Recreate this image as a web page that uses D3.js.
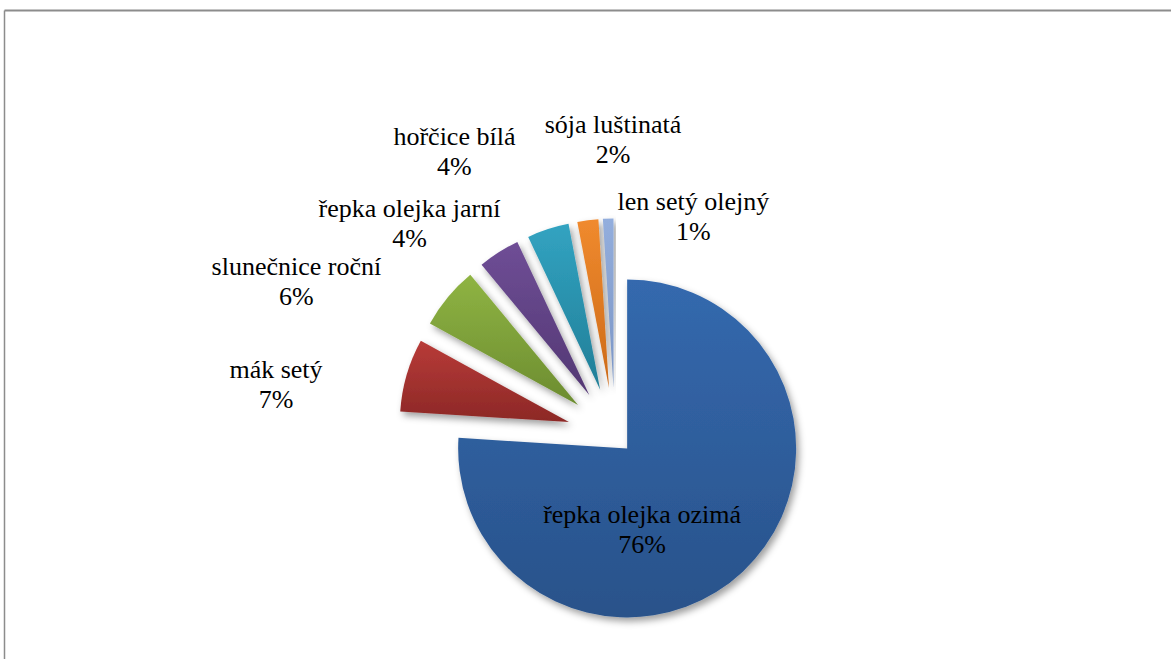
<!DOCTYPE html>
<html>
<head>
<meta charset="utf-8">
<script src="https://cdn.jsdelivr.net/npm/d3@7"></script>
<style>
  html, body { margin: 0; padding: 0; background: #fff; }
  svg { display: block; }
  text.lbl { font-family: "Liberation Serif", "Times New Roman", Tinos, "DejaVu Serif", serif; font-size: 26px; }
</style>
</head>
<body>
<svg id="chart" width="1171" height="659"></svg>
<script>
// Oil crops – share of sown area
const categories = ["řepka olejka ozimá", "mák setý", "slunečnice roční", "řepka olejka jarní", "hořčice bílá", "sója luštinatá", "len setý olejný"];
const shares = [76, 7, 6, 4, 4, 2, 1];
const shareLabels = ["76%", "7%", "6%", "4%", "4%", "2%", "1%"];

// Slice fills: light (top) and dark (bottom) gradient stops
const fillTop = ["#3469ae", "#b83b38", "#8fb443", "#6f4e96", "#32a3c1", "#f08a2e", "#93aedd"];
const fillBottom = ["#29528a", "#8c2826", "#6c8c30", "#523773", "#217e97", "#cc6a18", "#7b95c5"];

// Explosion distances (fraction of radius) and label anchors (radius units from centre)
const explode = [0.105, 0.284, 0.284, 0.284, 0.284, 0.284, 0.284];
const labelAnchor = [[0.16, 0.518], [-2.006, -0.34], [-1.885, -0.95], [-1.216, -1.293], [-0.95, -1.719], [-0.012, -1.79], [0.464, -1.334]];

const W = 1171, H = 659;
const cx = 615, cy = 435.5, R = 169;

const svg = d3.select("#chart");
const defs = svg.append("defs");

const shadow = defs.append("filter").attr("id", "shadow")
  .attr("x", "-20%").attr("y", "-20%").attr("width", "140%").attr("height", "140%");
shadow.append("feDropShadow")
  .attr("dx", 3).attr("dy", 4).attr("stdDeviation", 3.5)
  .attr("flood-color", "#000").attr("flood-opacity", 0.38);

categories.forEach((c, i) => {
  const g = defs.append("linearGradient").attr("id", "grad" + i)
    .attr("x1", 0).attr("y1", 0).attr("x2", 0).attr("y2", 1);
  g.append("stop").attr("offset", "0%").attr("stop-color", fillTop[i]);
  g.append("stop").attr("offset", "100%").attr("stop-color", fillBottom[i]);
});

// Frame
svg.append("line").attr("x1", 4.5).attr("y1", 10.5).attr("x2", W).attr("y2", 10.5)
  .attr("stroke", "#8c8c8c").attr("stroke-width", 2);
svg.append("line").attr("x1", 4.5).attr("y1", 10.5).attr("x2", 4.5).attr("y2", H)
  .attr("stroke", "#8c8c8c").attr("stroke-width", 1.5);

const data = categories.map((c, i) => ({ name: c, value: shares[i], label: shareLabels[i], i }));

const pie = d3.pie().value(d => d.value).sort(null).startAngle(0).endAngle(2 * Math.PI);
const arc = d3.arc().innerRadius(0).outerRadius(R);

const arcs = pie(data);

const g = svg.append("g").attr("transform", `translate(${cx},${cy})`);

g.selectAll("path.slice")
  .data(arcs)
  .join("path")
  .attr("class", "slice")
  .attr("d", arc)
  .attr("fill", d => `url(#grad${d.data.i})`)
  .attr("filter", "url(#shadow)")
  .attr("transform", d => {
    const mid = (d.startAngle + d.endAngle) / 2;
    const e = explode[d.data.i] * R;
    return `translate(${Math.sin(mid) * e},${-Math.cos(mid) * e})`;
  });

// Labels
const lbl = g.selectAll("text.lbl")
  .data(arcs)
  .join("text")
  .attr("class", "lbl")
  .attr("text-anchor", "middle")
  .attr("fill", "#000")
  .attr("transform", d => {
    const a = labelAnchor[d.data.i];
    return `translate(${a[0] * R},${a[1] * R})`;
  });
lbl.append("tspan").attr("x", 0).attr("y", 0).text(d => d.data.name);
lbl.append("tspan").attr("x", 0).attr("y", 30).text(d => d.data.label);
</script>
</body>
</html>
